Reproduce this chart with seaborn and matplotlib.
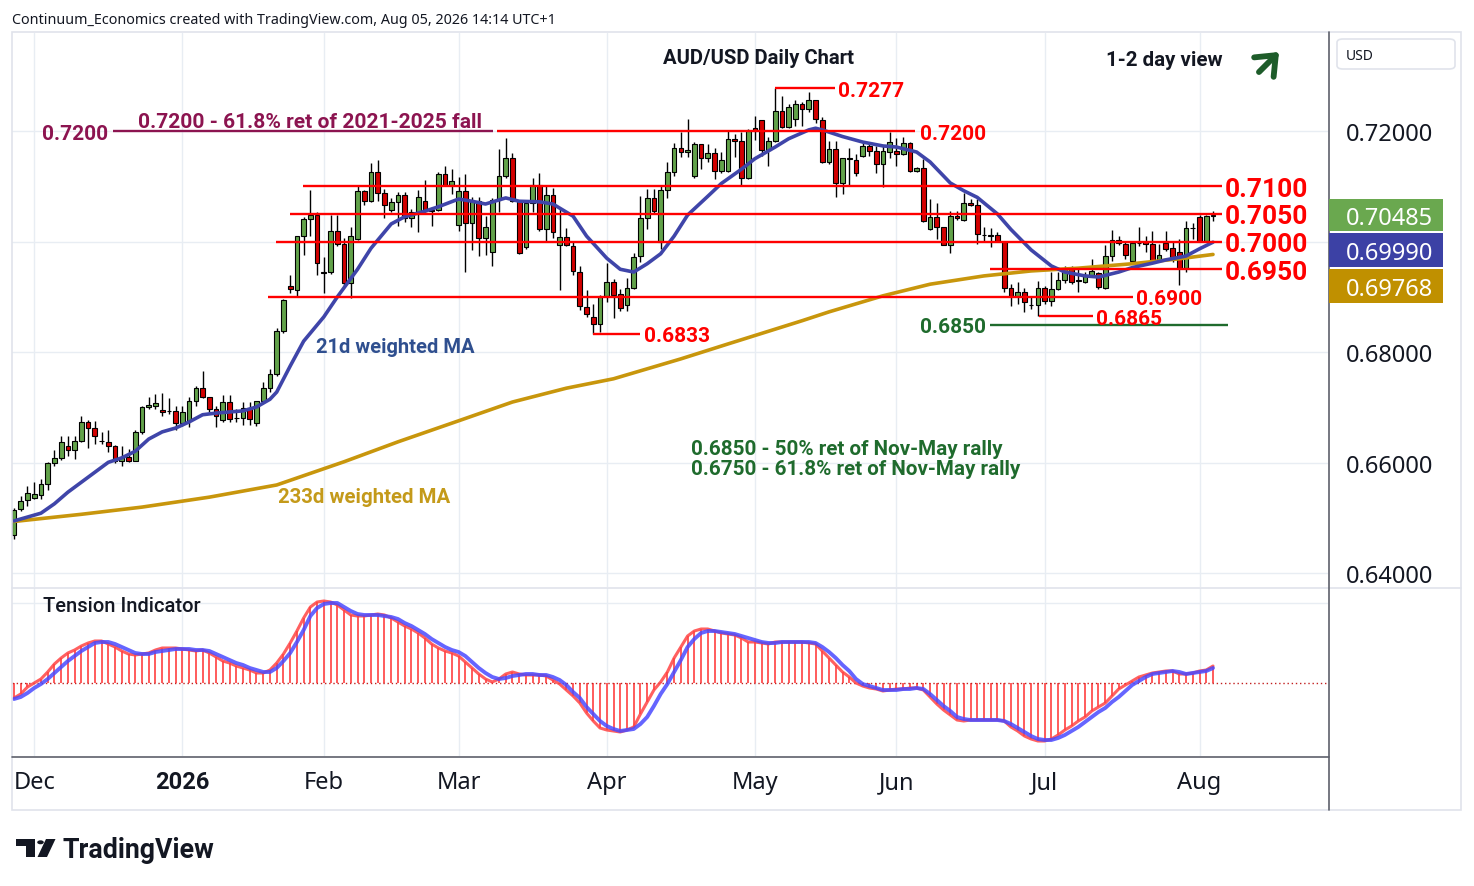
import numpy as np
import pandas as pd
import matplotlib
matplotlib.use("Agg")
import matplotlib.pyplot as plt
import seaborn as sns
from matplotlib.patches import Rectangle, FancyBboxPatch, Circle, Polygon, FancyArrowPatch
from matplotlib.lines import Line2D

# ---------------- DATA ----------------
holidays = ["2025-12-25", "2026-01-01"]
dates = [d for d in pd.bdate_range("2025-11-26", "2026-08-05")
         if d.strftime("%Y-%m-%d") not in holidays]

open_ = [
    0.6470, 0.6517, 0.6533, 0.6537, 0.6542, 0.6562, 0.6600, 0.6609, 0.6630, 0.6623,
    0.6640, 0.6674, 0.6663, 0.6640, 0.6638, 0.6630, 0.6603, 0.6611, 0.6603, 0.6656,
    0.6701, 0.6703, 0.6696, 0.6694, 0.6694, 0.6672, 0.6676, 0.6712, 0.6735, 0.6719,
    0.6697, 0.6677, 0.6710, 0.6681, 0.6681, 0.6699, 0.6672, 0.6712, 0.6735, 0.6761,
    0.6838, 0.6920, 0.6913, 0.7010, 0.7041, 0.7048, 0.6945, 0.6945, 0.7019, 0.6996,
    0.6925, 0.7005, 0.7092, 0.7073, 0.7126, 0.7088, 0.7057, 0.7072, 0.7084, 0.7043,
    0.7054, 0.7073, 0.7057, 0.7057, 0.7122, 0.7102, 0.7030, 0.7092, 0.7034, 0.7073,
    0.7007, 0.6981, 0.7075, 0.7119, 0.7151, 0.7073, 0.6990, 0.7070, 0.7102, 0.7023,
    0.7084, 0.6994, 0.7008, 0.6992, 0.6945, 0.6882, 0.6864, 0.6851, 0.6902, 0.6927,
    0.6905, 0.6885, 0.6916, 0.6974, 0.7043, 0.7079, 0.7000, 0.7093, 0.7126, 0.7169,
    0.7162, 0.7119, 0.7176, 0.7151, 0.7160, 0.7128, 0.7128, 0.7186, 0.7182, 0.7115,
    0.7205, 0.7220, 0.7166, 0.7182, 0.7236, 0.7207, 0.7222, 0.7249, 0.7240, 0.7256,
    0.7220, 0.7144, 0.7167, 0.7106, 0.7151, 0.7148, 0.7155, 0.7173, 0.7164, 0.7140,
    0.7162, 0.7164, 0.7158, 0.7178, 0.7128, 0.7133, 0.7023, 0.7044, 0.7026, 0.6994,
    0.7046, 0.7039, 0.7070, 0.7066, 0.7012, 0.7012, 0.7012, 0.6999, 0.6916, 0.6902,
    0.6909, 0.6885, 0.6885, 0.6916, 0.6893, 0.6914, 0.6930, 0.6950, 0.6930, 0.6927,
    0.6938, 0.6943, 0.6916, 0.6974, 0.7003, 0.6996, 0.6965, 0.6998, 0.7000, 0.6996,
    0.6965, 0.6998, 0.6988, 0.6981, 0.6952, 0.7025, 0.7044, 0.7001, 0.7046,
]
high_ = [
    0.6518, 0.6540, 0.6558, 0.6565, 0.6571, 0.6602, 0.6623, 0.6649, 0.6649, 0.6649,
    0.6685, 0.6678, 0.6676, 0.6656, 0.6659, 0.6632, 0.6630, 0.6625, 0.6659, 0.6703,
    0.6719, 0.6724, 0.6726, 0.6717, 0.6703, 0.6703, 0.6719, 0.6739, 0.6766, 0.6719,
    0.6703, 0.6723, 0.6723, 0.6697, 0.6710, 0.6710, 0.6712, 0.6746, 0.6770, 0.6844,
    0.6896, 0.6940, 0.7010, 0.7045, 0.7093, 0.7054, 0.6972, 0.7048, 0.7048, 0.7007,
    0.7026, 0.7100, 0.7093, 0.7142, 0.7148, 0.7095, 0.7079, 0.7090, 0.7090, 0.7059,
    0.7093, 0.7111, 0.7063, 0.7126, 0.7137, 0.7131, 0.7117, 0.7122, 0.7081, 0.7081,
    0.7046, 0.7079, 0.7167, 0.7187, 0.7160, 0.7075, 0.7072, 0.7115, 0.7124, 0.7100,
    0.7097, 0.7061, 0.7025, 0.6999, 0.6956, 0.6913, 0.6887, 0.6903, 0.6961, 0.6932,
    0.6914, 0.6934, 0.6979, 0.7082, 0.7095, 0.7095, 0.7100, 0.7144, 0.7178, 0.7198,
    0.7222, 0.7180, 0.7176, 0.7176, 0.7169, 0.7162, 0.7200, 0.7195, 0.7198, 0.7204,
    0.7227, 0.7220, 0.7189, 0.7277, 0.7263, 0.7249, 0.7256, 0.7252, 0.7271, 0.7256,
    0.7225, 0.7182, 0.7182, 0.7151, 0.7169, 0.7158, 0.7180, 0.7176, 0.7173, 0.7173,
    0.7198, 0.7187, 0.7189, 0.7180, 0.7135, 0.7149, 0.7077, 0.7070, 0.7026, 0.7055,
    0.7055, 0.7088, 0.7077, 0.7077, 0.7026, 0.7025, 0.7017, 0.7001, 0.6923, 0.6927,
    0.6916, 0.6902, 0.6929, 0.6920, 0.6945, 0.6945, 0.6956, 0.6956, 0.6950, 0.6945,
    0.6969, 0.6945, 0.6994, 0.7021, 0.7010, 0.6999, 0.6999, 0.7026, 0.7010, 0.7019,
    0.6996, 0.7019, 0.6999, 0.7005, 0.7037, 0.7034, 0.7048, 0.7048, 0.7055,
]
low_ = [
    0.6462, 0.6513, 0.6522, 0.6535, 0.6535, 0.6551, 0.6594, 0.6605, 0.6612, 0.6607,
    0.6638, 0.6627, 0.6634, 0.6634, 0.6620, 0.6600, 0.6594, 0.6601, 0.6603, 0.6652,
    0.6697, 0.6697, 0.6685, 0.6688, 0.6659, 0.6667, 0.6665, 0.6703, 0.6717, 0.6692,
    0.6665, 0.6674, 0.6674, 0.6674, 0.6668, 0.6668, 0.6667, 0.6710, 0.6728, 0.6757,
    0.6835, 0.6907, 0.6902, 0.6976, 0.7010, 0.6940, 0.6907, 0.6941, 0.6992, 0.6920,
    0.6898, 0.7003, 0.7066, 0.7072, 0.7073, 0.7043, 0.7054, 0.7028, 0.7036, 0.7026,
    0.7017, 0.7054, 0.7028, 0.7055, 0.7101, 0.7086, 0.7020, 0.6945, 0.6985, 0.6974,
    0.6976, 0.6956, 0.7054, 0.7115, 0.7072, 0.6978, 0.6987, 0.7054, 0.7019, 0.7001,
    0.7007, 0.6913, 0.6992, 0.6940, 0.6876, 0.6864, 0.6833, 0.6837, 0.6891, 0.6862,
    0.6875, 0.6875, 0.6914, 0.6963, 0.7023, 0.7050, 0.6987, 0.7079, 0.7119, 0.7153,
    0.7153, 0.7115, 0.7131, 0.7144, 0.7113, 0.7124, 0.7126, 0.7153, 0.7102, 0.7113,
    0.7184, 0.7155, 0.7137, 0.7180, 0.7205, 0.7205, 0.7209, 0.7209, 0.7234, 0.7215,
    0.7142, 0.7140, 0.7081, 0.7086, 0.7102, 0.7119, 0.7153, 0.7155, 0.7124, 0.7099,
    0.7151, 0.7137, 0.7157, 0.7126, 0.7126, 0.7035, 0.7021, 0.7005, 0.6994, 0.6980,
    0.7039, 0.7037, 0.7064, 0.6996, 0.7001, 0.6990, 0.6999, 0.6909, 0.6884, 0.6887,
    0.6873, 0.6878, 0.6866, 0.6887, 0.6884, 0.6912, 0.6925, 0.6923, 0.6909, 0.6925,
    0.6936, 0.6914, 0.6914, 0.6965, 0.6994, 0.6969, 0.6963, 0.6992, 0.6981, 0.6963,
    0.6963, 0.6983, 0.6963, 0.6922, 0.6945, 0.7005, 0.6999, 0.6999, 0.7037,
]
close_ = [
    0.6515, 0.6531, 0.6546, 0.6543, 0.6562, 0.6600, 0.6609, 0.6638, 0.6623, 0.6640,
    0.6674, 0.6663, 0.6649, 0.6639, 0.6630, 0.6603, 0.6611, 0.6603, 0.6656, 0.6701,
    0.6705, 0.6708, 0.6692, 0.6694, 0.6672, 0.6692, 0.6712, 0.6735, 0.6719, 0.6697,
    0.6685, 0.6710, 0.6679, 0.6681, 0.6699, 0.6679, 0.6712, 0.6735, 0.6760, 0.6838,
    0.6894, 0.6914, 0.7010, 0.7041, 0.7048, 0.6961, 0.6944, 0.7019, 0.6996, 0.6925,
    0.7010, 0.7092, 0.7073, 0.7126, 0.7088, 0.7066, 0.7072, 0.7084, 0.7043, 0.7054,
    0.7081, 0.7055, 0.7056, 0.7122, 0.7102, 0.7110, 0.7092, 0.7034, 0.7073, 0.7007,
    0.7026, 0.7075, 0.7119, 0.7151, 0.7073, 0.6979, 0.7070, 0.7102, 0.7023, 0.7084,
    0.7017, 0.7008, 0.6994, 0.6947, 0.6884, 0.6869, 0.6851, 0.6900, 0.6927, 0.6903,
    0.6880, 0.6916, 0.6972, 0.7043, 0.7079, 0.7055, 0.7093, 0.7126, 0.7169, 0.7162,
    0.7166, 0.7176, 0.7151, 0.7160, 0.7128, 0.7148, 0.7186, 0.7182, 0.7115, 0.7200,
    0.7200, 0.7166, 0.7182, 0.7236, 0.7207, 0.7243, 0.7249, 0.7240, 0.7256, 0.7222,
    0.7144, 0.7167, 0.7106, 0.7151, 0.7150, 0.7124, 0.7173, 0.7164, 0.7140, 0.7164,
    0.7180, 0.7158, 0.7178, 0.7128, 0.7133, 0.7037, 0.7044, 0.7026, 0.6994, 0.7046,
    0.7043, 0.7070, 0.7066, 0.7014, 0.7012, 0.7010, 0.7001, 0.6916, 0.6902, 0.6909,
    0.6891, 0.6885, 0.6916, 0.6893, 0.6914, 0.6930, 0.6950, 0.6927, 0.6929, 0.6938,
    0.6947, 0.6918, 0.6974, 0.7003, 0.6998, 0.6976, 0.6998, 0.6998, 0.6996, 0.6965,
    0.6976, 0.6987, 0.6972, 0.6952, 0.7025, 0.7024, 0.7001, 0.7046, 0.70485,
]

# 21-day weighted MA
ma21_dates = [
    "2025-11-26", "2025-12-02", "2025-12-04", "2025-12-08", "2025-12-10", "2025-12-12",
    "2025-12-16", "2025-12-18", "2025-12-22", "2025-12-24", "2025-12-29", "2025-12-31",
    "2026-01-05", "2026-01-07", "2026-01-09", "2026-01-13", "2026-01-15", "2026-01-19",
    "2026-01-21", "2026-01-22", "2026-01-26", "2026-01-28", "2026-02-02", "2026-02-04",
    "2026-02-09", "2026-02-11", "2026-02-16", "2026-02-18", "2026-02-23", "2026-02-25",
    "2026-03-02", "2026-03-04", "2026-03-06", "2026-03-11", "2026-03-13", "2026-03-18",
    "2026-03-20", "2026-03-25", "2026-03-27", "2026-04-01", "2026-04-03", "2026-04-07",
    "2026-04-09", "2026-04-13", "2026-04-15", "2026-04-17", "2026-04-22", "2026-04-24",
    "2026-04-29", "2026-05-01", "2026-05-06", "2026-05-08", "2026-05-13", "2026-05-14",
    "2026-05-15", "2026-05-20", "2026-05-25", "2026-05-28", "2026-06-01", "2026-06-04",
    "2026-06-08", "2026-06-11", "2026-06-15", "2026-06-17", "2026-06-22", "2026-06-24",
    "2026-06-29", "2026-07-02", "2026-07-06", "2026-07-09", "2026-07-13", "2026-07-16",
    "2026-07-20", "2026-07-23", "2026-07-27", "2026-07-30", "2026-08-03", "2026-08-05",
]
ma21_vals = [
    0.6495, 0.6509, 0.6526, 0.6547, 0.6565, 0.6583,
    0.6601, 0.6609, 0.6621, 0.6643, 0.6656, 0.6663,
    0.6674, 0.6687, 0.6690, 0.6692, 0.6694, 0.6701,
    0.6715, 0.6728, 0.6775, 0.6820, 0.6864, 0.6900,
    0.6950, 0.6988, 0.7032, 0.7045, 0.7055, 0.7063,
    0.7077, 0.7073, 0.7068, 0.7079, 0.7073, 0.7072,
    0.7068, 0.7046, 0.7010, 0.6970, 0.6950, 0.6945,
    0.6960, 0.6978, 0.7010, 0.7048, 0.7082, 0.7105,
    0.7131, 0.7150, 0.7171, 0.7186, 0.7202, 0.7205,
    0.7202, 0.7190, 0.7180, 0.7173, 0.7171, 0.7162,
    0.7144, 0.7106, 0.7092, 0.7080, 0.7050, 0.7022,
    0.6985, 0.6956, 0.6945, 0.6938, 0.6936, 0.6945,
    0.6953, 0.6961, 0.6967, 0.6974, 0.6987, 0.6999,
]

# 233-day weighted MA
ma233_dates = [
    "2025-11-26", "2025-12-10", "2025-12-23", "2026-01-08", "2026-01-22", "2026-02-05",
    "2026-02-17", "2026-03-02", "2026-03-12", "2026-03-24", "2026-04-02", "2026-04-16",
    "2026-04-27", "2026-05-12", "2026-05-18", "2026-05-28", "2026-06-08", "2026-06-18",
    "2026-06-29", "2026-07-08", "2026-07-20", "2026-07-29", "2026-08-05",
]
ma233_vals = [
    0.6494, 0.6507, 0.6520, 0.6538, 0.6560, 0.6602,
    0.6638, 0.6676, 0.6710, 0.6735, 0.6752, 0.6788,
    0.6815, 0.6857, 0.6873, 0.6902, 0.6923, 0.6938,
    0.6947, 0.6952, 0.6960, 0.6969, 0.69768,
]

# Tension indicator (oscillator, red) and its signal (blue), one value per bar
tension = [
    -15, -11, -4, 0, 4, 11, 19, 25, 30, 33, 37, 40, 42, 42, 39, 36, 32, 29, 28, 29,
    30, 33, 35, 35, 35, 34, 33, 32, 33, 30, 26, 22, 20, 17, 15, 13, 10, 10, 13, 20,
    29, 40, 52, 65, 76, 81, 82, 81, 78, 73, 68, 67, 67, 68, 69, 68, 65, 61, 57, 54,
    50, 45, 39, 35, 32, 30, 27, 21, 15, 9, 4, 1, 4, 9, 11, 9, 8, 8, 8, 7,
    3, -1, -7, -13, -20, -30, -38, -45, -47, -48, -49, -47, -44, -31, -19, -7, 1, 11, 25, 36,
    47, 52, 54, 54, 52, 50, 49, 48, 45, 41, 41, 40, 39, 41, 41, 41, 41, 41, 40, 39,
    32, 25, 18, 11, 6, 0, -3, -5, -6, -8, -7, -6, -6, -5, -5, -7, -14, -21, -27, -32,
    -37, -38, -37, -37, -37, -37, -37, -38, -44, -48, -53, -56, -58, -58, -56, -52, -47, -43, -38, -34,
    -28, -24, -20, -13, -6, -2, 2, 6, 8, 10, 11, 12, 12, 9, 9, 10, 12, 13, 17,
]
signal = [
    -16, -14, -10, -5, -1, 4, 10, 16, 22, 27, 32, 36, 40, 41, 41, 39, 36, 33, 30, 29,
    29, 31, 32, 33, 34, 34, 34, 33, 33, 32, 29, 26, 23, 20, 18, 15, 13, 11, 11, 15,
    22, 30, 41, 53, 67, 75, 79, 80, 80, 76, 72, 69, 68, 68, 68, 67, 66, 64, 60, 57,
    53, 49, 44, 40, 36, 33, 31, 27, 21, 15, 10, 6, 4, 5, 7, 8, 9, 9, 8, 8,
    6, 3, -2, -9, -15, -24, -31, -38, -43, -46, -48, -47, -46, -41, -34, -23, -11, -1, 11, 23,
    36, 44, 50, 52, 52, 51, 50, 49, 47, 45, 43, 41, 40, 40, 41, 41, 41, 41, 41, 40,
    36, 31, 25, 18, 12, 4, -1, -3, -5, -7, -7, -7, -6, -6, -5, -6, -11, -17, -23, -28,
    -34, -36, -37, -37, -37, -37, -37, -38, -41, -45, -49, -53, -56, -57, -57, -55, -52, -48, -44, -39,
    -34, -29, -25, -19, -14, -8, -2, 2, 6, 9, 10, 11, 12, 11, 9, 10, 11, 12, 15,
]

# Support / resistance levels
levels_red = [0.7277, 0.7200, 0.7100, 0.7050, 0.7000, 0.6950, 0.6900, 0.6865, 0.6833]
level_fib = 0.7200
level_green = 0.6850
last_price = 0.70485
ma21_last = 0.69990
ma233_last = 0.69768
price_ticks = [0.64, 0.66, 0.68, 0.70, 0.72]
month_names = ["Dec", "2026", "Feb", "Mar", "Apr", "May", "Jun", "Jul", "Aug"]

# ---------------- STYLE / LAYOUT ----------------
sns.set_theme(style="white")
plt.rcParams['font.family'] = ['Noto Sans', 'DejaVu Sans']
BOLD = ['Roboto', 'Lato', 'DejaVu Sans']

W, H, DPI = 1474, 887, 100
TXT = '#131722'
GRID = '#e8edf3'
GREEN_C = '#62a24a'
RED_C = '#d30000'
LRED = '#ff0000'
MAROON = '#8c1450'
DKGREEN = '#1f6b2d'
MA21_C = '#3f45a9'
MA233_C = '#c8960c'

fig = plt.figure(figsize=(W / DPI, H / DPI), dpi=DPI)
fig.patch.set_facecolor('white')

def fx(px):
    return px / W

def fy(py):
    return 1 - py / H

P_L, P_R, P_T, P_B = 12, 1328, 34, 588
I_T, I_B = 589, 757
ax = fig.add_axes([fx(P_L), fy(P_B), (P_R - P_L) / W, (P_B - P_T) / H])
axi = fig.add_axes([fx(P_L), fy(I_B), (P_R - P_L) / W, (I_B - I_T) / H])

BAR_PX, X0_PX = 6.736, 14.0
PRICE_PER_PX = 0.0001808
xlim = ((P_L - X0_PX) / BAR_PX, (P_R - X0_PX) / BAR_PX)
ylim = (0.72 - (P_B - 132) * PRICE_PER_PX, 0.72 + (132 - P_T) * PRICE_PER_PX)

n = len(dates)
x = np.arange(n)
pos = {d.strftime("%Y-%m-%d"): i for i, d in enumerate(dates)}
o, h, l, c = map(np.array, (open_, high_, low_, close_))

# month tick positions
month_pos = []
prev = None
for i, d in enumerate(dates):
    if prev is not None and d.month != prev:
        month_pos.append(i)
    prev = d.month

for a in (ax, axi):
    a.set_facecolor('white')
    for s in a.spines.values():
        s.set_visible(False)
    a.set_xlim(*xlim)
    a.set_xticks(month_pos)
    a.grid(True, color=GRID, lw=1)
    a.set_axisbelow(True)

# ---- price panel ----
ax.set_ylim(*ylim)
ax.set_yticks(price_ticks)
# the 0.70000 label is hidden behind the value badges in the original
ax.set_yticklabels([("" if abs(t - 0.70) < 1e-9 else f"{t:.5f}") for t in price_ticks])
ax.yaxis.tick_right()
ax.tick_params(axis='y', length=0, pad=13, labelsize=17, labelcolor=TXT)
ax.tick_params(axis='x', length=0, labelbottom=False)

# candles
up = c >= o
ax.vlines(x, l, h, color='black', lw=1.0, zorder=3)
body_lo = np.minimum(o, c)
body_h = np.maximum(np.abs(c - o), 0.00002)
ax.bar(x, body_h, bottom=body_lo, width=0.70,
       color=np.where(up, GREEN_C, RED_C), edgecolor='black', linewidth=0.8, zorder=4)

# moving averages
sns.lineplot(x=[pos[d] for d in ma233_dates], y=ma233_vals, ax=ax, color=MA233_C,
             lw=2.6, sort=False, estimator=None, zorder=5)
sns.lineplot(x=[pos[d] for d in ma21_dates], y=ma21_vals, ax=ax, color=MA21_C,
             lw=2.6, sort=False, estimator=None, zorder=5)
ax.set_xlabel(''); ax.set_ylabel('')

# level lines: (start bar, end bar, label x, font size)
last = n - 1
ext_end = last + 1.3
big = 19
small = 15
lines_spec = [
    (113.0, 121.9, 122.3, small),
    (71.7, 133.8, 134.5, small),
    (42.9, ext_end, ext_end + 0.45, big),
    (41.0, ext_end, ext_end + 0.45, big),
    (38.9, ext_end, ext_end + 0.45, big),
    (144.9, ext_end, ext_end + 0.45, big),
    (37.7, 166.1, 166.55, small),
    (152.2, 160.2, 160.65, small),
    (86.0, 93.0, 93.5, small),
]
for (x_s, x_e, x_lab, fs), lev in zip(lines_spec, levels_red):
    ax.hlines(lev, x_s, x_e, color=LRED, lw=1.7, zorder=6)
    ax.text(x_lab, lev, f"{lev:.4f}", color=LRED, fontsize=fs, fontweight='bold', family=BOLD,
            ha='left', va='center_baseline', zorder=7, clip_on=False)

# 0.7200 fib line (maroon)
ax.hlines(level_fib, 14.7, 71.1, color=MAROON, lw=1.7, zorder=6)
ax.text(13.95, level_fib, f"{level_fib:.4f}", color=MAROON, fontsize=small, fontweight='bold',
        family=BOLD, ha='right', va='center_baseline', zorder=7)
ax.text(18.4, level_fib + 4 * PRICE_PER_PX, "0.7200 - 61.8% ret of 2021-2025 fall",
        color=MAROON, fontsize=15.1, fontweight='bold', family=BOLD,
        ha='left', va='baseline', zorder=7)

# 0.6850 line (dark green)
ax.hlines(level_green, 144.9, last + 2.2, color=DKGREEN, lw=1.7, zorder=6)
ax.text(144.3, level_green, f"{level_green:.4f}", color=DKGREEN, fontsize=small,
        fontweight='bold', family=BOLD, ha='right', va='center_baseline', zorder=7)

# ---- indicator panel ----
axi.set_ylim(-73, 95)
axi.set_yticks([80])
axi.tick_params(axis='y', length=0, labelleft=False, labelright=False)
axi.vlines(x, 0, tension, color='#ff4a4a', lw=1.4, alpha=0.9, zorder=3)
axi.axhline(0, color='#c21f1f', lw=1.0, ls=(0, (1, 2)), zorder=3)
sns.lineplot(x=x, y=tension, ax=axi, color='#ff4444', lw=2.2, alpha=0.85,
             sort=False, estimator=None, zorder=4)
sns.lineplot(x=x, y=signal, ax=axi, color='#4a4aff', lw=2.8, alpha=0.85,
             sort=False, estimator=None, zorder=5)
axi.set_xlabel(''); axi.set_ylabel('')
axi.set_xticklabels(month_names)
axi.tick_params(axis='x', length=0, pad=10, labelsize=17, labelcolor=TXT)
lab2026 = axi.get_xticklabels()[1]
lab2026.set_fontweight('bold')
lab2026.set_family(BOLD)

# ---- frames ----
def fig_line(x1, y1, x2, y2, color, lw=1.0, z=3):
    fig.add_artist(Line2D([fx(x1), fx(x2)], [fy(y1), fy(y2)], color=color, lw=lw,
                          transform=fig.transFigure, zorder=z))

fig.add_artist(Rectangle((fx(12), fy(811)), (1461 - 12) / W, (811 - 33) / H, fill=False,
                         ec='#e0e3eb', lw=1.2, transform=fig.transFigure, zorder=2))
fig_line(12, 588.5, 1461, 588.5, '#e0e3eb', 1.2)
fig_line(1328.5, 33, 1328.5, 811, '#5d606b', 1.2)
fig_line(12, 757.5, 1328.5, 757.5, '#5d606b', 1.2)

# USD box
fig.add_artist(FancyBboxPatch((fx(1337), fy(70)), (1455 - 1337) / W, (70 - 40) / H,
                              boxstyle='round,pad=0,rounding_size=0.004', fc='white',
                              ec='#e0e3eb', lw=1.2, transform=fig.transFigure, zorder=3))
fig.text(fx(1346), fy(55), "USD", fontsize=10, color=TXT, ha='left', va='center_baseline')

# value labels on price scale
for val, col, ytop, ybot in [(last_price, '#6aa84f', 200, 232),
                             (ma21_last, '#3c41a5', 234, 268),
                             (ma233_last, '#c09000', 270, 304)]:
    fig.add_artist(Rectangle((fx(1329), fy(ybot)), (1443 - 1329) / W, (ybot - ytop) / H,
                             fc=col, ec='none', transform=fig.transFigure, zorder=5))
    fig.text(fx(1346), fy((ytop + ybot) / 2), f"{val:.5f}", fontsize=17, color='white',
             ha='left', va='center_baseline', zorder=6)

# texts
fig.text(fx(12), fy(19), "Continuum_Economics created with TradingView.com, Aug 05, 2026 14:14 UTC+1",
         fontsize=10.3, color=TXT, ha='left', va='center_baseline')
fig.text(fx(663), fy(57), "AUD/USD Daily Chart", fontsize=14.6, fontweight='bold', family=BOLD,
         color=TXT, ha='left', va='center_baseline')
fig.text(fx(1106), fy(59), "1-2 day view", fontsize=14.8, fontweight='bold', family=BOLD,
         color=TXT, ha='left', va='center_baseline')
fig.text(fx(316), fy(346), "21d weighted MA", fontsize=14.5, fontweight='bold', family=BOLD,
         color='#2f4f8f', ha='left', va='center_baseline')
fig.text(fx(278), fy(496), "233d weighted MA", fontsize=14.7, fontweight='bold', family=BOLD,
         color='#c49a1a', ha='left', va='center_baseline')
fig.text(fx(691), fy(448), "0.6850 - 50% ret of Nov-May rally", fontsize=14.9, fontweight='bold',
         family=BOLD, color=DKGREEN, ha='left', va='center_baseline')
fig.text(fx(691), fy(468), "0.6750 - 61.8% ret of Nov-May rally", fontsize=14.9, fontweight='bold',
         family=BOLD, color=DKGREEN, ha='left', va='center_baseline')
fig.text(fx(43), fy(605), "Tension Indicator", fontsize=14.5, fontweight='medium', family=BOLD,
         color=TXT, ha='left', va='center_baseline')

# arrow
fig.add_artist(FancyArrowPatch((fx(1257), fy(75)), (fx(1281), fy(51)),
                               arrowstyle='->,head_length=0.55,head_width=0.45',
                               mutation_scale=22, lw=4.2, color='#1e5c2a',
                               transform=fig.transFigure, zorder=6))

# TradingView logo
fig.add_artist(Polygon([(fx(15.5), fy(840)), (fx(35), fy(840)), (fx(35), fy(858)),
                        (fx(25.5), fy(858)), (fx(25.5), fy(846.5)), (fx(15.5), fy(846.5))],
                       closed=True, fc=TXT, ec='none', transform=fig.transFigure))
fig.add_artist(Circle((fx(40.5), fy(843.3)), 3.3 / W, fc=TXT, ec='none',
                      transform=fig.transFigure))
fig.add_artist(Polygon([(fx(46), fy(840)), (fx(55.5), fy(840)), (fx(47), fy(858)),
                        (fx(37.5), fy(858))], closed=True, fc=TXT, ec='none',
                       transform=fig.transFigure))
fig.text(fx(62), fy(858), "TradingView", fontsize=19.3, fontweight='bold', family=BOLD,
         color=TXT, ha='left', va='baseline')

fig.savefig("out.png", dpi=DPI, facecolor='white')
